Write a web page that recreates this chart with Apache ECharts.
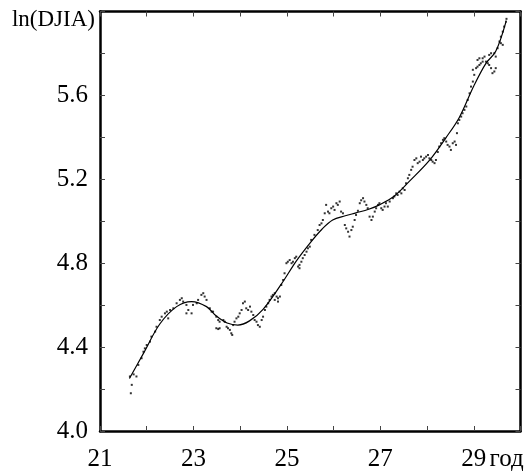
<!DOCTYPE html>
<html>
<head>
<meta charset="utf-8">
<script src="https://cdn.jsdelivr.net/npm/echarts@6/dist/echarts.min.js"></script>
<style>
  html, body { margin: 0; padding: 0; background: #fff; }
  #chart { width: 528px; height: 475px; }
</style>
</head>
<body>
<div id="chart"></div>
<script>
// Years that carry a printed label on the horizontal axis
const labeledYears = [21, 23, 25, 27, 29];
// Log-index levels that carry a printed label on the vertical axis
const labeledLevels = [4.0, 4.4, 4.8, 5.2, 5.6];

// Individual observations of ln(DJIA): [year, value]
const observations = [
  [21.66,4.18],[21.68,4.22],[21.64,4.26],[21.72,4.27],[21.78,4.26],[21.82,4.315],[21.89,4.347],
  [21.93,4.378],[21.96,4.394],[22.00,4.41],[22.07,4.426],[22.10,4.45],[22.18,4.474],[22.21,4.497],
  [22.28,4.529],[22.32,4.545],[22.39,4.561],[22.43,4.569],[22.46,4.537],[22.50,4.577],[22.57,4.585],
  [22.64,4.609],[22.71,4.625],[22.75,4.633],[22.78,4.617],[22.85,4.601],[22.89,4.577],[22.96,4.561],
  [22.85,4.561],[22.99,4.601],[23.07,4.609],[23.10,4.625],[23.17,4.649],[23.21,4.657],[23.24,4.641],
  [23.28,4.625],[23.35,4.585],[23.39,4.569],[23.42,4.569],[23.49,4.545],[23.53,4.529],[23.56,4.521],
  [23.64,4.529],[23.67,4.521],[23.49,4.49],[23.53,4.486],[23.56,4.49],[23.71,4.497],[23.74,4.49],
  [23.78,4.482],[23.81,4.466],[23.83,4.458],[23.85,4.505],[23.88,4.521],[23.92,4.537],[23.96,4.545],
  [23.99,4.561],[24.03,4.577],[24.06,4.609],[24.10,4.617],[24.13,4.585],[24.17,4.577],[24.21,4.593],
  [24.24,4.569],[24.28,4.553],[24.31,4.529],[24.35,4.521],[24.38,4.505],[24.42,4.497],[24.46,4.529],
  [24.49,4.545],[24.53,4.577],[24.56,4.593],[24.60,4.609],[24.63,4.625],[24.67,4.641],[24.70,4.649],
  [24.74,4.657],[24.78,4.641],[24.81,4.633],[24.74,4.625],[24.81,4.617],[24.85,4.641],
  [24.88,4.696],[24.92,4.72],[24.95,4.752],[24.99,4.80],[25.02,4.807],[25.06,4.815],[25.10,4.80],
  [25.13,4.807],[25.17,4.824],[25.20,4.831],[25.24,4.784],[25.27,4.792],[25.27,4.776],[25.31,4.807],
  [25.34,4.824],[25.38,4.839],[25.42,4.855],[25.45,4.871],[25.49,4.879],[25.52,4.911],[25.59,4.935],
  [25.66,4.958],[25.70,4.982],[25.74,4.99],[25.77,5.006],[25.81,5.038],[25.84,5.078],[25.88,5.046],
  [25.91,5.038],[25.95,5.062],[25.99,5.07],[26.02,5.054],[26.06,5.086],[26.09,5.078],[26.13,5.094],
  [26.16,5.046],[26.20,5.038],[26.24,4.982],[26.27,4.966],[26.31,4.95],[26.34,4.927],[26.38,4.958],
  [26.41,4.974],[26.45,5.006],[26.48,5.03],[26.52,5.05],[26.56,5.086],[26.59,5.10],[26.63,5.11],
  [26.66,5.094],[26.70,5.078],[26.73,5.062],[26.77,5.022],[26.81,5.006],[26.84,5.022],[26.88,5.046],
  [26.91,5.062],[26.95,5.078],[26.98,5.086],[27.02,5.062],[27.05,5.054],[27.09,5.07],[27.12,5.086],
  [27.16,5.07],[27.20,5.094],[27.27,5.11],[27.30,5.118],[27.34,5.133],[27.37,5.125],[27.41,5.141],
  [27.45,5.133],[27.48,5.157],[27.52,5.149],[27.55,5.181],[27.59,5.205],[27.62,5.221],[27.66,5.245],
  [27.69,5.26],[27.73,5.292],[27.77,5.30],[27.80,5.277],[27.84,5.284],[27.87,5.308],[27.91,5.292],
  [27.94,5.30],[27.98,5.308],[28.02,5.316],[28.05,5.30],[28.09,5.292],[28.12,5.284],[28.16,5.277],
  [28.19,5.292],[28.23,5.33],[28.26,5.356],[28.30,5.372],[28.34,5.388],[28.37,5.396],[28.41,5.38],
  [28.44,5.364],[28.48,5.356],[28.51,5.34],[28.55,5.372],[28.59,5.38],[28.62,5.364],[28.64,5.42],
  [28.66,5.467],[28.69,5.483],[28.73,5.499],[28.76,5.515],[28.80,5.531],[28.84,5.547],[28.87,5.578],
  [28.91,5.61],[28.94,5.642],[28.98,5.666],[29.01,5.698],[28.98,5.722],[29.05,5.73],[29.08,5.737],
  [29.12,5.745],[29.15,5.753],[29.08,5.769],[29.12,5.777],[29.19,5.777],[29.23,5.785],[29.19,5.761],
  [29.26,5.761],[29.30,5.753],[29.33,5.745],[29.37,5.73],[29.40,5.706],[29.44,5.714],[29.47,5.73],
  [29.33,5.793],[29.37,5.801],[29.44,5.801],[29.47,5.785],[29.51,5.825],[29.55,5.857],[29.58,5.849],
  [29.62,5.841],[29.58,5.88],[29.62,5.904],[29.65,5.928],[29.69,5.952],[29.70,5.965]
];

// Smoothed trend of ln(DJIA): [year, value]
const trend = [
  [21.63,4.25],[21.93,4.37],[22.28,4.51],[22.64,4.593],[22.96,4.617],[23.28,4.593],[23.49,4.548],
  [23.72,4.515],[23.95,4.505],[24.2,4.525],[24.49,4.58],[24.88,4.70],[25.2,4.81],[25.49,4.895],
  [25.75,4.962],[25.98,5.006],[26.25,5.026],[26.48,5.04],[26.75,5.057],[26.98,5.078],[27.3,5.12],
  [27.62,5.19],[28.05,5.29],[28.41,5.40],[28.69,5.495],[29.0,5.645],[29.26,5.753],[29.47,5.81],
  [29.69,5.952]
];

const FONT = "'Liberation Serif', 'Times New Roman', serif";
const frameLine = { show: true, onZero: false, lineStyle: { color: '#000', width: 2.5 } };
const innerTick = { show: true, inside: true, length: 5, lineStyle: { color: '#444', width: 1 } };

const chart = echarts.init(document.getElementById('chart'), null, { renderer: 'canvas' });

chart.setOption({
  backgroundColor: '#fff',
  animation: false,
  grid: { left: 100, right: 7.5, top: 11.5, bottom: 44, containLabel: false, outerBoundsMode: 'none' },
  xAxis: [
    {
      type: 'value', position: 'bottom', min: 21, max: 30, interval: 1,
      axisLine: frameLine, axisTick: innerTick, splitLine: { show: false },
      axisLabel: {
        margin: 16, color: '#000', fontFamily: FONT, fontSize: 25,
        formatter: v => labeledYears.some(y => Math.abs(y - v) < 1e-6) ? String(Math.round(v)) : ''
      },
      name: 'год', nameLocation: 'end', nameGap: -31, nameMoveOverlap: false,
      nameTextStyle: { color: '#000', fontFamily: FONT, fontSize: 25, align: 'left', verticalAlign: 'top', padding: [16, 0, 0, 0] }
    },
    {
      type: 'value', position: 'top', min: 21, max: 30, interval: 1,
      axisLine: frameLine, axisTick: innerTick, axisLabel: { show: false }, splitLine: { show: false }
    }
  ],
  yAxis: [
    {
      type: 'value', position: 'left', min: 4, max: 6, interval: 0.2,
      axisLine: frameLine, axisTick: innerTick, splitLine: { show: false },
      axisLabel: {
        margin: 12, color: '#000', fontFamily: FONT, fontSize: 25,
        formatter: v => labeledLevels.some(l => Math.abs(l - v) < 1e-6) ? v.toFixed(1) : ''
      },
      name: 'ln(DJIA)', nameLocation: 'end', nameGap: -8, nameMoveOverlap: false,
      nameTextStyle: { color: '#000', fontFamily: FONT, fontSize: 23, align: 'right', verticalAlign: 'middle', padding: [0, 5, 0, 0] }
    },
    {
      type: 'value', position: 'right', min: 4, max: 6, interval: 0.2,
      axisLine: frameLine, axisTick: innerTick, axisLabel: { show: false }, splitLine: { show: false }
    }
  ],
  series: [
    {
      type: 'scatter', xAxisIndex: 0, yAxisIndex: 0,
      data: observations, symbol: 'rect', symbolSize: 2,
      itemStyle: { color: '#000' }, silent: true
    },
    {
      type: 'line', xAxisIndex: 0, yAxisIndex: 0,
      data: trend, smooth: 0.35, showSymbol: false, symbol: 'none',
      lineStyle: { color: '#000', width: 1.2 }, silent: true
    }
  ]
});
</script>
</body>
</html>
